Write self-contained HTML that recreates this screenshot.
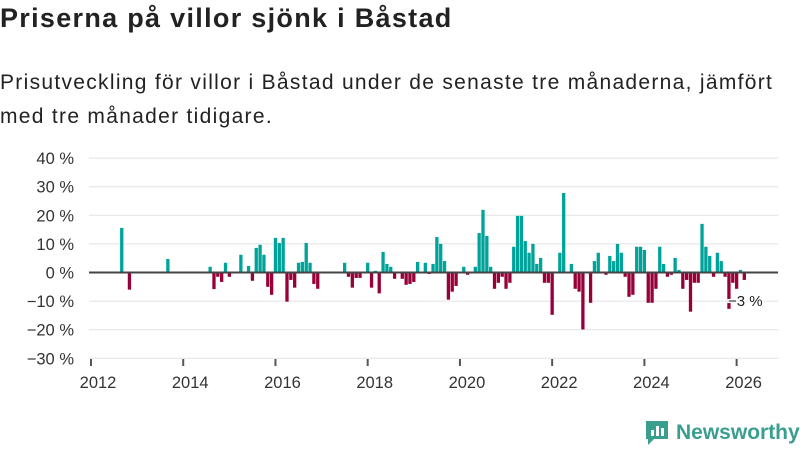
<!DOCTYPE html>
<html><head><meta charset="utf-8"><style>
body{margin:0;width:800px;height:450px;background:#fff;font-family:"Liberation Sans",sans-serif;overflow:hidden;position:relative}
#title{position:absolute;left:0;top:3px;font-size:27px;letter-spacing:1.3px;font-weight:bold;color:#222;margin:0}
#sub{position:absolute;left:0;top:66px;font-size:21px;letter-spacing:1.3px;line-height:34px;color:#222;width:800px}
#logo{position:absolute;left:644px;top:419px;display:flex;align-items:center}
#logo span{color:#3a9e8f;font-size:21px;font-weight:bold;margin-left:6px}
</style></head><body>
<h1 id="title">Priserna på villor sjönk i Båstad</h1>
<div id="sub">Prisutveckling för villor i Båstad under de senaste tre månaderna, jämfört med tre månader tidigare.</div>
<svg id="chart" width="800" height="450" style="position:absolute;left:0;top:0"></svg>
<div id="logo">
<svg width="26" height="28"><path d="M2 2h22v18H10l-6 6v-6H2z" fill="#3a9e8f"/><rect x="7" y="11" width="3" height="6" fill="#fff"/><rect x="12" y="7" width="3" height="10" fill="#fff"/><rect x="17" y="9" width="3" height="8" fill="#fff"/></svg>
<span>Newsworthy</span></div>
<script>
const startYear = 2012;
const values = [null,null,null,null,null,null,null,null,15.6,null,-6,null,null,null,null,null,null,null,null,null,4.7,null,null,null,null,null,null,null,null,null,null,2.0,-5.8,-1.5,-3.3,3.4,-1.5,null,null,6.2,null,2.3,-2.9,8.6,9.7,6.2,-5,-7.8,12.1,10.3,12.1,-10.2,-2.6,-5.3,3.4,3.7,10.3,3.4,-4,-5.7,null,null,null,null,null,null,3.4,-1.5,-5.3,-1.9,-1.9,null,3.4,-5.3,0.6,-7.3,7.2,3,2,-2.2,null,-2.2,-4.3,-4,-3.3,3.7,null,3.4,-0.5,3,12.4,10,4,-9.5,-6.7,-4.7,null,2,-0.8,null,2,13.8,21.9,12.8,2,-5.7,-3.6,-1.5,-5.7,-3.6,9,19.8,19.8,11,6.9,10,3,5.1,-3.6,-3.6,-14.8,null,6.9,27.8,null,3,-5.7,-6.7,-19.9,null,-10.6,4,6.9,null,-0.8,5.8,4,10,6.9,-1.5,-8.5,-7.8,9,9,7.9,-10.6,-10.6,-5.7,9,3,-1.5,-0.8,5.1,0.9,-5.7,-2.6,-13.7,-3.6,-3.6,17,9,5.8,-1.5,6.9,4,-1.5,-12.7,-3.6,-5.7,0.9,-2.6];
const yTicks = [40,30,20,10,0,-10,-20,-30];
const xTickYears = [2012,2014,2016,2018,2020,2022,2024,2026];
const lastLabel = "−3 %";
const NS="http://www.w3.org/2000/svg";
const svg=document.getElementById('chart');
const y=v=>272.5-v*2.86;
const x=m=>91+m*3.843;
function mk(t,a){const e=document.createElementNS(NS,t);for(const k in a)e.setAttribute(k,a[k]);svg.appendChild(e);return e;}
yTicks.forEach(t=>{
  if(t!==0){const g=mk('line',{x1:89,x2:778,y1:y(t),y2:y(t),stroke:'#e2e2e2','stroke-width':1});
  
  }
  const l=mk('text',{x:74,y:y(t)+6,'text-anchor':'end','font-size':16.5,fill:'#333'});
  l.textContent=(t<0?'−'+(-t):t)+' %';
  
  
});
xTickYears.forEach(yr=>{
  const px=x((yr-startYear)*12);
  const t=mk('line',{x1:px,x2:px,y1:359,y2:366,stroke:'#555','stroke-width':2});
  
  
  const l=mk('text',{x:px+7,y:388,'text-anchor':'middle','font-size':16.5,fill:'#333'});
  l.textContent=yr;
  
  
});
values.forEach((v,i)=>{
  if(v===null)return;
  const top=v>=0?y(v):y(0), h=Math.abs(y(v)-y(0));
  const b=mk('rect',{x:x(i)-1.65,y:top,width:3.3,height:h,fill:v>=0?'#00a39a':'#98003a'});
  
  
});
const z=mk('line',{x1:89,x2:778,y1:y(0),y2:y(0),stroke:'#444','stroke-width':2});


const li=values.length-1;
const lbl=mk('text',{x:x(li)+1,y:y(values[li])+26,'text-anchor':'middle','font-size':15,fill:'#222',stroke:'#fff','stroke-width':3,'paint-order':'stroke'});
lbl.textContent=lastLabel;


</script>
</body></html>
